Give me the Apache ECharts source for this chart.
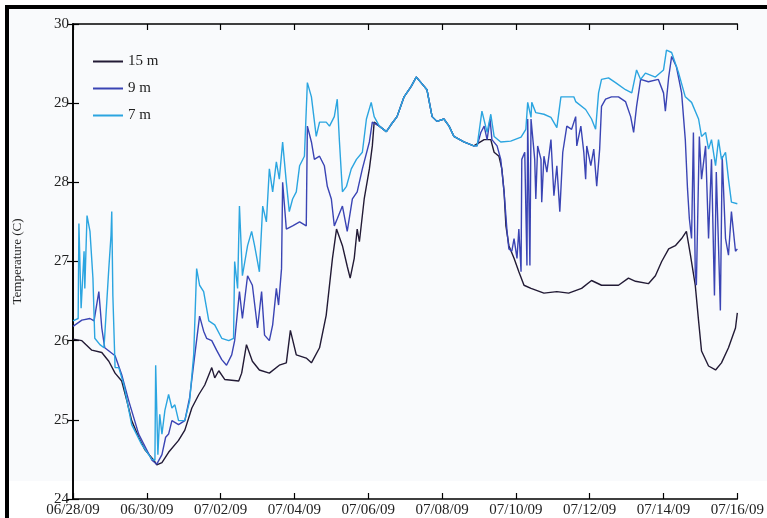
<!DOCTYPE html>
<html>
<head>
<meta charset="utf-8">
<script src="https://cdn.jsdelivr.net/npm/echarts@6/dist/echarts.min.js"></script>
<style>html,body{margin:0;padding:0;background:#fff;}#c{width:767px;height:518px;}</style>
</head>
<body>
<div id="c"></div>
<script>
// time in days since 06/28/09 00:00
var xTickLabels = ['06/28/09','06/30/09','07/02/09','07/04/09','07/06/09','07/08/09','07/10/09','07/12/09','07/14/09','07/16/09'];
var seriesNames = ['15 m', '9 m', '7 m'];

// segment where all three depths coincide (well mixed)
var commonT = [8.30,8.49,8.62,8.78,8.97,9.16,9.30,9.43,9.59,9.73,9.86,10.05,10.19,10.32,10.59,10.86];
var commonV = [28.71,28.64,28.73,28.83,29.08,29.21,29.33,29.26,29.17,28.83,28.77,28.80,28.71,28.58,28.51,28.46];

var t15a = [0,0.24,0.51,0.78,0.97,1.14,1.32,1.46,1.59,1.78,1.95,2.19,2.27,2.41,2.59,2.86,3.03,3.22,3.41,3.57,3.76,3.84,3.95,4.11,4.49,4.57,4.70,4.86,5.05,5.32,5.59,5.78,5.89,6.05,6.32,6.46,6.68,6.86,7.03,7.14,7.30,7.43,7.51,7.62,7.70,7.76,7.89,8.03,8.11,8.16];
var v15a = [26.02,26.00,25.88,25.85,25.74,25.59,25.49,25.24,24.99,24.78,24.62,24.49,24.43,24.46,24.59,24.74,24.87,25.15,25.32,25.44,25.66,25.53,25.62,25.51,25.49,25.59,25.95,25.74,25.63,25.59,25.69,25.72,26.13,25.82,25.78,25.72,25.91,26.32,27.04,27.41,27.20,26.94,26.79,27.04,27.41,27.25,27.79,28.17,28.46,28.76];
var t15b = [11.14,11.32,11.41,11.54,11.62,11.68,11.73,11.81,11.95,12.08,12.22,12.41,12.76,13.11,13.43,13.78,14.05,14.32,14.78,15.05,15.24,15.59,15.78,15.95,16.14,16.32,16.49,16.62,16.73,16.86,16.95,17.03,17.22,17.41,17.57,17.76,17.95,18.0];
var v15b = [28.54,28.54,28.38,28.33,28.17,27.88,27.45,27.20,27.04,26.87,26.70,26.66,26.60,26.62,26.60,26.66,26.76,26.70,26.70,26.79,26.75,26.72,26.82,27.00,27.16,27.20,27.29,27.38,27.08,26.70,26.25,25.87,25.68,25.63,25.72,25.91,26.16,26.35];

var t9a = [0,0.24,0.46,0.57,0.70,0.78,0.86,1.14,1.32,1.51,1.78,2.14,2.27,2.41,2.51,2.59,2.68,2.86,3.03,3.16,3.30,3.43,3.54,3.62,3.76,3.89,4.03,4.16,4.30,4.38,4.51,4.59,4.73,4.86,5.00,5.11,5.19,5.32,5.41,5.51,5.57,5.65,5.68,5.78,5.95,6.14,6.32,6.35,6.46,6.54,6.68,6.81,6.89,7.00,7.08,7.16,7.30,7.43,7.57,7.70,7.84,8.03,8.11];
var v9a = [26.18,26.26,26.28,26.25,26.62,26.16,25.91,25.81,25.57,25.24,24.82,24.49,24.44,24.56,24.78,24.82,24.99,24.94,24.99,25.28,25.82,26.31,26.12,26.03,26.00,25.88,25.76,25.69,25.82,26.00,26.62,26.28,26.82,26.70,26.16,26.62,26.07,26.00,26.20,26.66,26.45,26.91,28.00,27.41,27.45,27.50,27.45,28.71,28.51,28.29,28.33,28.21,27.95,27.79,27.45,27.54,27.70,27.38,27.79,27.88,28.17,28.51,28.76];
var t9b = [10.95,11.05,11.14,11.22,11.30,11.35,11.49,11.59,11.68,11.76,11.81,11.89,11.95,12.03,12.08,12.14,12.16,12.24,12.30,12.32,12.38,12.41,12.51,12.54,12.59,12.68,12.70,12.76,12.84,12.95,13.03,13.11,13.19,13.27,13.38,13.43,13.51,13.62,13.65,13.76,13.84,13.89,13.92,14.03,14.11,14.19,14.27,14.32,14.43,14.59,14.78,14.97,15.11,15.19,15.27,15.38,15.59,15.86,16.00,16.05,16.14,16.22,16.35,16.49,16.59,16.65,16.70,16.76,16.81,16.86,16.89,16.97,17.03,17.14,17.22,17.30,17.38,17.43,17.49,17.54,17.59,17.68,17.76,17.84,17.95,18.0];
var v9b = [28.46,28.63,28.71,28.54,28.80,28.54,28.46,28.29,27.88,27.38,27.16,27.13,27.29,27.04,27.41,26.87,28.29,28.38,26.95,28.80,26.95,28.80,28.29,27.79,28.46,28.29,27.75,28.33,28.13,28.54,27.83,28.21,27.63,28.38,28.71,28.71,28.67,28.83,28.46,28.71,28.38,28.04,28.46,28.21,28.42,27.95,28.42,28.96,29.05,29.08,29.08,29.02,28.83,28.63,28.96,29.30,29.27,29.30,29.13,28.90,29.33,29.59,29.46,29.13,28.54,27.92,27.54,27.29,28.63,26.87,26.70,28.58,28.04,28.46,27.29,28.29,26.57,28.13,27.20,26.38,28.33,27.29,27.08,27.63,27.13,27.16];

var t7a = [0,0.14,0.16,0.22,0.30,0.32,0.38,0.46,0.54,0.59,0.73,0.84,0.97,1.03,1.05,1.08,1.14,1.24,1.38,1.59,1.86,2.14,2.22,2.24,2.30,2.35,2.41,2.49,2.59,2.68,2.76,2.86,3.03,3.16,3.27,3.35,3.43,3.54,3.68,3.84,4.03,4.22,4.35,4.38,4.46,4.51,4.59,4.73,4.84,4.92,5.05,5.14,5.24,5.32,5.41,5.51,5.59,5.68,5.78,5.86,5.95,6.05,6.14,6.27,6.35,6.46,6.59,6.68,6.86,6.95,7.08,7.16,7.22,7.30,7.41,7.54,7.68,7.84,7.95,8.08,8.16];
var v7a = [26.25,26.28,27.48,26.41,27.13,26.66,27.58,27.38,26.79,26.03,25.95,25.91,26.91,27.33,27.63,26.57,25.66,25.66,25.44,24.94,24.69,24.50,24.49,25.69,24.56,25.07,24.82,25.12,25.32,25.15,25.19,24.99,24.99,25.24,25.82,26.91,26.70,26.62,26.25,26.20,26.03,26.00,26.03,27.00,26.66,27.70,26.82,27.20,27.38,27.20,26.87,27.70,27.50,28.17,27.88,28.26,28.04,28.51,28.00,27.63,27.79,27.88,28.21,28.33,29.26,29.08,28.58,28.76,28.76,28.71,28.83,29.05,28.51,27.88,27.95,28.17,28.29,28.38,28.80,29.01,28.83];
var t7b = [10.95,11.08,11.22,11.32,11.41,11.59,11.86,12.14,12.27,12.32,12.41,12.43,12.54,12.76,12.95,13.11,13.22,13.38,13.57,13.62,13.89,14.05,14.16,14.24,14.32,14.51,14.70,14.97,15.14,15.27,15.38,15.51,15.78,16.00,16.08,16.22,16.41,16.59,16.76,16.95,17.03,17.14,17.22,17.30,17.41,17.49,17.57,17.68,17.76,17.84,18.0];
var v7b = [28.46,28.90,28.63,28.86,28.58,28.51,28.52,28.57,28.67,29.01,28.82,29.01,28.88,28.86,28.82,28.69,29.08,29.08,29.08,29.02,28.92,28.80,28.67,29.13,29.30,29.32,29.26,29.17,29.13,29.42,29.30,29.38,29.33,29.42,29.67,29.64,29.38,29.08,29.01,28.80,28.58,28.63,28.42,28.54,28.21,28.54,28.29,28.38,28.04,27.75,27.73];

function zip(t, v) { return t.map(function (x, i) { return [x, v[i]]; }); }
var d15 = zip(t15a.concat(commonT, t15b), v15a.concat(commonV, v15b));
var d9 = zip(t9a.concat(commonT, t9b), v9a.concat(commonV, v9b));
var d7 = zip(t7a.concat(commonT, t7b), v7a.concat(commonV, v7b));

var serif = '"Liberation Serif", "DejaVu Serif", serif';
var chart = echarts.init(document.getElementById('c'), null, {renderer: 'canvas'});
var axisCommon = {
  axisLine: {show: true, lineStyle: {color: '#000', width: 1.6}},
  axisTick: {show: true, inside: true, length: 6, lineStyle: {color: '#000', width: 1.2}},
  splitLine: {show: false}
};
chart.setOption({
  animation: false,
  backgroundColor: '#fff',
  graphic: [
    {type: 'rect', z: -10, silent: true, shape: {x: 9, y: 9, width: 760, height: 472}, style: {fill: '#f9fafc', stroke: null}},
    {type: 'rect', z: 100, silent: true, shape: {x: 7, y: 7, width: 800, height: 600}, style: {fill: null, stroke: '#000', lineWidth: 4}}
  ],
  grid: {left: 73, top: 24, right: 28, bottom: 16, containLabel: false},
  legend: {
    data: seriesNames,
    orient: 'vertical',
    left: 88, top: 49,
    itemWidth: 30, itemHeight: 2, itemGap: 12,
    icon: 'rect',
    textStyle: {fontFamily: serif, fontSize: 15, color: '#222'}
  },
  xAxis: [
    Object.assign({type: 'value', min: 0, max: 18, interval: 2, position: 'bottom',
      axisLabel: {formatter: function (v) { return xTickLabels[Math.round(v / 2)]; }, margin: 4,
        fontFamily: serif, fontSize: 15, color: '#222'}}, axisCommon),
    Object.assign({type: 'value', min: 0, max: 18, interval: 2, position: 'top',
      axisLabel: {show: false}}, axisCommon)
  ],
  yAxis: [
    Object.assign({type: 'value', min: 24, max: 30, interval: 1, position: 'left',
      name: 'Temperature (C)', nameLocation: 'middle', nameGap: 49,
      nameTextStyle: {fontFamily: serif, fontSize: 13, color: '#222'},
      axisLabel: {margin: 4, fontFamily: serif, fontSize: 15, color: '#222'}}, axisCommon),
    Object.assign({type: 'value', min: 24, max: 30, interval: 1, position: 'right',
      axisLabel: {show: false}}, axisCommon)
  ],
  series: [
    {name: '15 m', type: 'line', data: d15, showSymbol: false, symbol: 'none', z: 2,
      lineStyle: {color: '#221a35', width: 1.4}, itemStyle: {color: '#221a35'}},
    {name: '9 m', type: 'line', data: d9, showSymbol: false, symbol: 'none', z: 3,
      lineStyle: {color: '#3a44b4', width: 1.4}, itemStyle: {color: '#3a44b4'}},
    {name: '7 m', type: 'line', data: d7, showSymbol: false, symbol: 'none', z: 4,
      lineStyle: {color: '#2ba5e0', width: 1.4}, itemStyle: {color: '#2ba5e0'}}
  ]
});
</script>
</body>
</html>
